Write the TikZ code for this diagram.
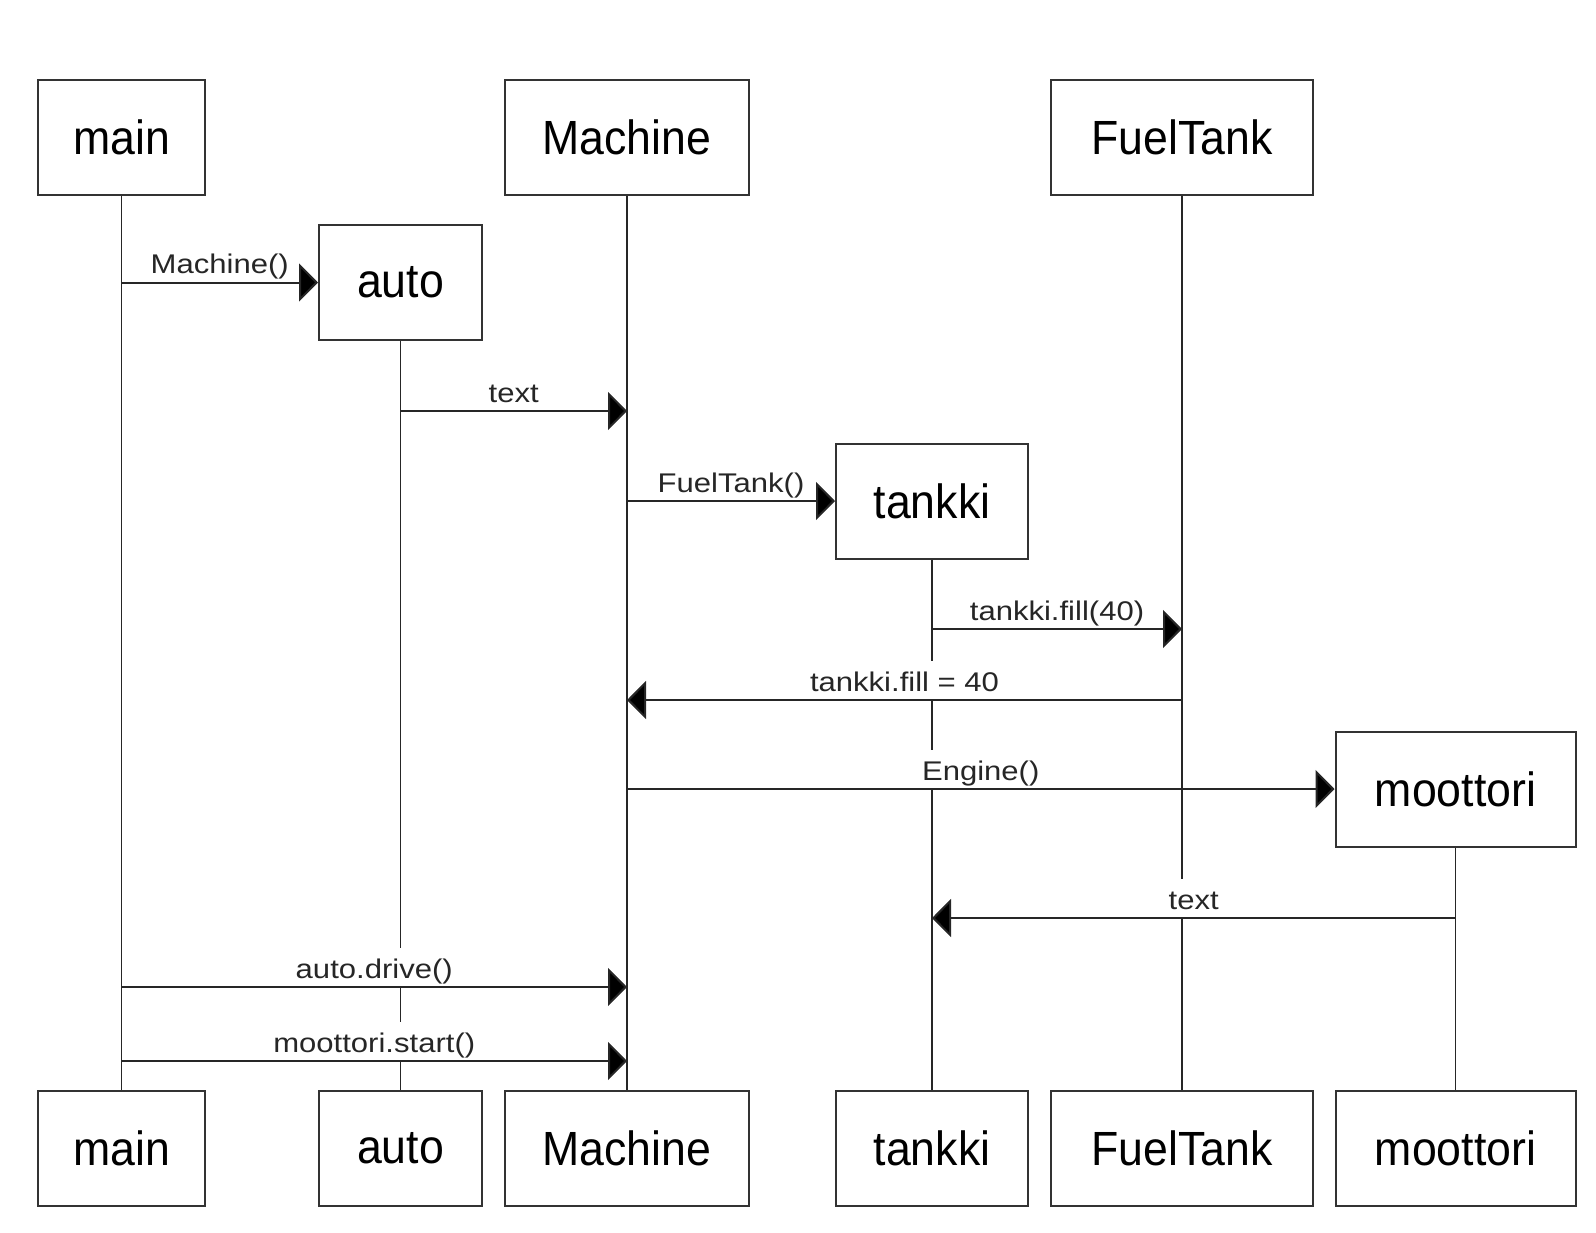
\documentclass[tikz,border=0pt]{standalone}
\usepackage{fontspec}
\setmainfont{Liberation Sans}
\newfontfamily\objfont[FakeStretch=0.93]{Liberation Sans}
\newfontfamily\msgfont[FakeStretch=1.15]{Liberation Sans}
\usetikzlibrary{arrows.meta}

\begin{document}
\begin{tikzpicture}[x=1pt,y=-1pt,
  obj/.style={draw=black!80,line width=2pt,minimum width=#1,minimum height=115pt,
    inner sep=0pt,text=black,font=\objfont\fontsize{48}{52}\selectfont},
  life/.style={line width=1.8pt,black!85},
  msg/.style={-{Triangle[length=19pt,width=38pt,fill=black]},line width=2pt,black!85},
  lbl/.style={fill=white,inner xsep=2pt,inner ysep=0pt,text height=30pt,text depth=8pt,
    anchor=base,yshift=9pt,text=black!85,font=\msgfont\fontsize{27}{30}\selectfont}]
  \path[use as bounding box] (0,0) rectangle (1596,1232);
  % Objects at the top and the ones created on the way.
  \node[obj=167pt] (main) at (121.5,137.5) {main};
  \node[obj=244pt] (machine) at (627,137.5) {Machine};
  \node[obj=262pt] (fueltank) at (1182,137.5) {FuelTank};
  \node[obj=163pt] (auto) at (400.5,282.5) {auto};
  \node[obj=192pt] (tankki) at (932,501) {tankki};
  \node[obj=240pt] (moottori) at (1455.5,789) {moottori};
  % Closing row.
  \node[obj=167pt] (main-end) at (121.5,1148.5) {main};
  \node[obj=163pt] (auto-end) at (400.5,1148.5) {auto};
  \node[obj=244pt] (machine-end) at (627,1148.5) {Machine};
  \node[obj=192pt] (tankki-end) at (932,1148.5) {tankki};
  \node[obj=262pt] (fueltank-end) at (1182,1148.5) {FuelTank};
  \node[obj=240pt] (moottori-end) at (1455.5,1148.5) {moottori};

  \foreach \obj in {main,auto,machine,tankki,fueltank,moottori}
    \draw[life] (\obj) -- (\obj-end);

  % Message rows.
  \coordinate (r2) at (0,411);
  \coordinate (r4) at (0,629);
  \coordinate (r5) at (0,700);
  \coordinate (r7) at (0,918);
  \coordinate (r8) at (0,987);
  \coordinate (r9) at (0,1061);

  \draw[msg] (main |- auto) -- (auto) node[lbl,midway] {Machine()};
  \draw[msg] (auto |- r2) -- (machine |- r2) node[lbl,midway] {text};
  \draw[msg] (machine |- tankki) -- (tankki) node[lbl,midway] {FuelTank()};
  \draw[msg] (tankki |- r4) -- (fueltank |- r4) node[lbl,midway] {tankki.fill(40)};
  \draw[msg] (fueltank |- r5) -- (machine |- r5) node[lbl,midway] {tankki.fill = 40};
  \draw[msg] (machine |- moottori) -- (moottori) node[lbl,midway] {Engine()};
  \draw[msg] (moottori |- r7) -- (tankki |- r7) node[lbl,midway] {text};
  \draw[msg] (main |- r8) -- (machine |- r8) node[lbl,midway] {auto.drive()};
  \draw[msg] (main |- r9) -- (machine |- r9) node[lbl,midway] {moottori.start()};
\end{tikzpicture}
\end{document}
